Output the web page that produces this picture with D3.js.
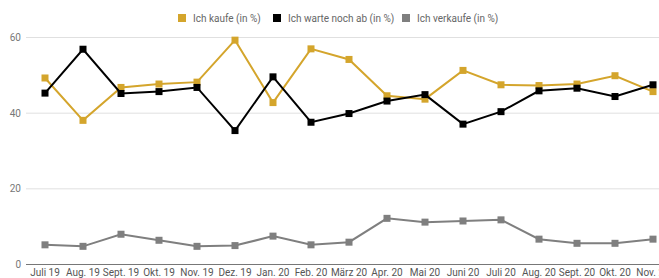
<!DOCTYPE html>
<html>
<head>
<meta charset="utf-8">
<script src="https://cdn.jsdelivr.net/npm/d3@7"></script>
<style>
  body { margin: 0; background: #fff; overflow: hidden; }
  text { font-family: Roboto, sans-serif; }
</style>
</head>
<body>
<div id="chart"></div>
<script>
var months = ['Juli 19', 'Aug. 19', 'Sept. 19', 'Okt. 19', 'Nov. 19', 'Dez. 19', 'Jan. 20', 'Feb. 20',
  'März 20', 'Apr. 20', 'Mai 20', 'Juni 20', 'Juli 20', 'Aug. 20', 'Sept. 20', 'Okt. 20', 'Nov. 20'];
var kaufe = [49.3, 38.1, 46.8, 47.7, 48.2, 59.3, 42.8, 57.0, 54.2, 44.6, 43.7, 51.3, 47.5, 47.3, 47.7, 49.9, 45.7];
var warte = [45.3, 56.9, 45.2, 45.7, 46.8, 35.4, 49.6, 37.6, 39.9, 43.2, 44.9, 37.1, 40.4, 45.9, 46.6, 44.4, 47.5];
var verkaufe = [5.2, 4.8, 8.0, 6.4, 4.8, 5.0, 7.5, 5.2, 5.9, 12.2, 11.2, 11.5, 11.8, 6.7, 5.6, 5.6, 6.7];
var yTicks = [0, 20, 40, 60];
var seriesNames = ['Ich kaufe (in %)', 'Ich warte noch ab (in %)', 'Ich verkaufe (in %)'];

(function () {
  var W = 659, H = 278;
  var margin = { top: 37.5, right: -13, bottom: 13.5, left: 26 };
  var width = W - margin.left - margin.right;
  var height = H - margin.top - margin.bottom;

  var svg = d3.select('#chart').append('svg')
    .attr('width', W).attr('height', H);
  var g = svg.append('g')
    .attr('transform', 'translate(' + margin.left + ',' + margin.top + ')');

  var x = d3.scalePoint().domain(months).range([0, width]).padding(0.5);
  var y = d3.scaleLinear().domain([0, 60]).range([height, 0]);

  // grid
  g.selectAll('line.grid').data(yTicks.filter(function (t) { return t > 0; }))
    .enter().append('line')
    .attr('x1', 0).attr('x2', width)
    .attr('y1', function (d) { return y(d); }).attr('y2', function (d) { return y(d); })
    .attr('stroke', '#e0e0e0').attr('stroke-width', 1);

  g.append('line')
    .attr('x1', 0).attr('x2', width)
    .attr('y1', y(0)).attr('y2', y(0))
    .attr('stroke', '#777').attr('stroke-width', 1);

  g.selectAll('text.ytick').data(yTicks).enter().append('text')
    .attr('x', -5).attr('y', function (d) { return y(d); })
    .attr('dy', '0.35em').attr('text-anchor', 'end')
    .attr('fill', '#777').style('font-size', '10px')
    .text(function (d) { return d; });

  g.selectAll('text.xtick').data(months).enter().append('text')
    .attr('x', function (d) { return x(d); }).attr('y', height + 11)
    .attr('text-anchor', 'middle')
    .attr('fill', '#555').style('font-size', '10px')
    .text(function (d) { return d; });

  var colors = ['#d4a52c', '#000000', '#7f7f7f'];
  var all = [kaufe, warte, verkaufe];

  var line = d3.line()
    .x(function (d, i) { return x(months[i]); })
    .y(function (d) { return y(d); });

  all.forEach(function (vals, k) {
    g.append('path').datum(vals)
      .attr('fill', 'none').attr('stroke', colors[k]).attr('stroke-width', 2)
      .attr('d', line);
    g.selectAll('rect.p' + k).data(vals).enter().append('rect')
      .attr('x', function (d, i) { return x(months[i]) - 3.5; })
      .attr('y', function (d) { return y(d) - 3.5; })
      .attr('width', 7).attr('height', 7)
      .attr('fill', colors[k]);
  });

  // legend
  var legend = svg.append('g').attr('transform', 'translate(0,18)');
  var lx = [178, 273, 402];
  seriesNames.forEach(function (n, i) {
    legend.append('rect').attr('x', lx[i]).attr('y', -4).attr('width', 8).attr('height', 8)
      .attr('fill', colors[i]);
    legend.append('text').attr('x', lx[i] + 15).attr('y', 0).attr('dy', '0.35em')
      .attr('fill', '#666').style('font-size', '10px').text(n);
  });
})();
</script>
</body>
</html>
